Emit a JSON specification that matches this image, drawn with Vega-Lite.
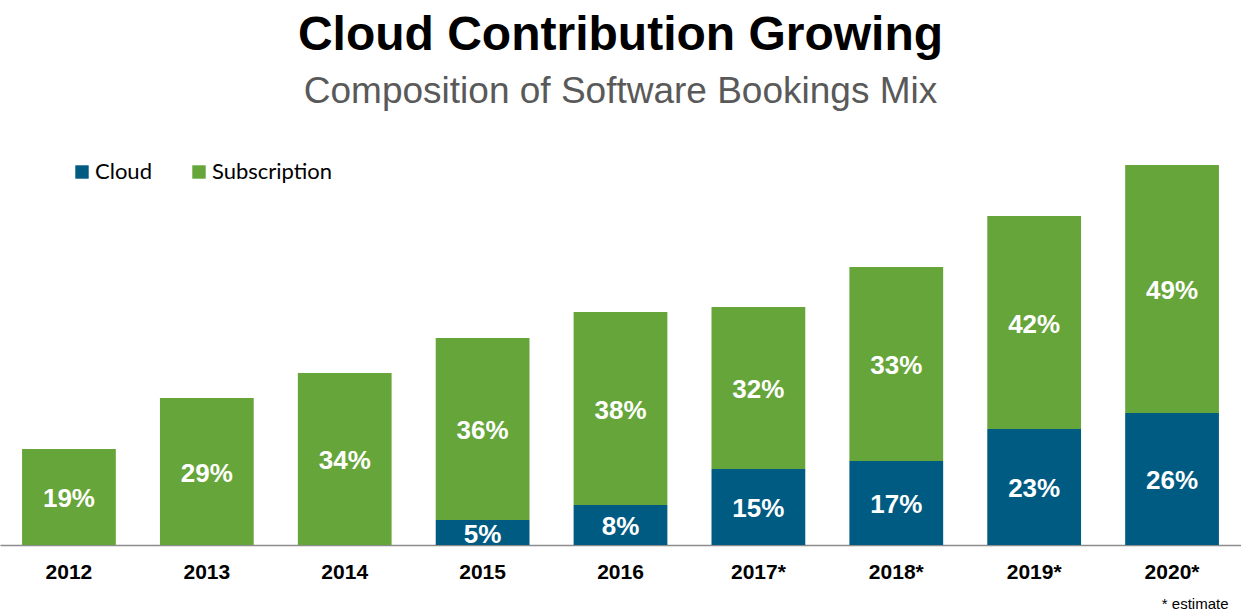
{
  "$schema": "https://vega.github.io/schema/vega-lite/v6.json",
  "width": 1241,
  "height": 405,
  "autosize": {"type": "none"},
  "padding": {"top": 140, "left": 0, "right": 0, "bottom": 68},
  "background": "white",
  "title": {
    "text": "Cloud Contribution Growing",
    "subtitle": "Composition of Software Bookings Mix",
    "anchor": "middle",
    "font": "Liberation Sans",
    "fontSize": 48,
    "fontWeight": "bold",
    "color": "#000000",
    "subtitleFont": "Liberation Sans",
    "subtitleFontSize": 37,
    "subtitleColor": "#595959",
    "subtitlePadding": 14,
    "offset": 30
  },
  "config": {"view": {"stroke": null}},
  "data": {
    "values": [
      {"year": "2012", "series": "Subscription", "order": 2, "value": 96, "label": "19%"},
      {"year": "2013", "series": "Subscription", "order": 2, "value": 147, "label": "29%"},
      {"year": "2014", "series": "Subscription", "order": 2, "value": 172, "label": "34%"},
      {"year": "2015", "series": "Cloud", "order": 1, "value": 25, "label": "5%"},
      {"year": "2015", "series": "Subscription", "order": 2, "value": 182, "label": "36%"},
      {"year": "2016", "series": "Cloud", "order": 1, "value": 40, "label": "8%"},
      {"year": "2016", "series": "Subscription", "order": 2, "value": 193, "label": "38%"},
      {"year": "2017*", "series": "Cloud", "order": 1, "value": 76, "label": "15%"},
      {"year": "2017*", "series": "Subscription", "order": 2, "value": 162, "label": "32%"},
      {"year": "2018*", "series": "Cloud", "order": 1, "value": 84, "label": "17%"},
      {"year": "2018*", "series": "Subscription", "order": 2, "value": 194, "label": "33%"},
      {"year": "2019*", "series": "Cloud", "order": 1, "value": 116, "label": "23%"},
      {"year": "2019*", "series": "Subscription", "order": 2, "value": 213, "label": "42%"},
      {"year": "2020*", "series": "Cloud", "order": 1, "value": 132, "label": "26%"},
      {"year": "2020*", "series": "Subscription", "order": 2, "value": 248, "label": "49%"}
    ]
  },
  "transform": [
    {"stack": "value", "groupby": ["year"], "sort": [{"field": "order", "order": "ascending"}], "as": ["y0", "y1"]}
  ],
  "layer": [
    {
      "mark": {"type": "bar"},
      "encoding": {
        "x": {
          "field": "year", "type": "nominal", "sort": null,
          "scale": {"paddingInner": 0.32, "paddingOuter": 0.16},
          "axis": {
            "title": "* estimate",
            "titleFont": "Liberation Sans",
            "titleFontSize": 15,
            "titleFontWeight": "normal",
            "titleColor": "#000000",
            "titleAnchor": "end",
            "titleAlign": "right",
            "titleX": 1228,
            "titlePadding": 14,
            "labelAngle": 0,
            "labelFont": "Liberation Sans",
            "labelFontSize": 21,
            "labelFontWeight": "bold",
            "labelColor": "#000000",
            "labelPadding": 16,
            "ticks": false,
            "domainColor": "#8c8c8c",
            "domainWidth": 1.5
          }
        },
        "y": {"field": "y0", "type": "quantitative", "scale": {"domain": [0, 405]}, "axis": null},
        "y2": {"field": "y1"},
        "color": {
          "field": "series", "type": "nominal",
          "scale": {"domain": ["Cloud", "Subscription"], "range": ["#005B82", "#66A539"]},
          "legend": {
            "title": null,
            "orient": "none",
            "legendX": 71,
            "legendY": 21,
            "direction": "horizontal",
            "symbolType": "square",
            "symbolSize": 180,
            "symbolStrokeWidth": 0,
            "labelFont": "Lato",
            "labelFontSize": 22,
            "labelColor": "#000000",
            "labelOffset": 2,
            "columnPadding": 36
          }
        }
      }
    },
    {
      "transform": [
        {"fold": ["y0", "y1"], "as": ["edge", "pos"]},
        {"aggregate": [{"op": "mean", "field": "pos", "as": "mid"}], "groupby": ["year", "series", "label"]}
      ],
      "mark": {"type": "text", "color": "white", "font": "Liberation Sans", "fontSize": 26, "fontWeight": "bold", "baseline": "middle", "align": "center", "dy": 2},
      "encoding": {
        "x": {"field": "year", "type": "nominal", "sort": null},
        "y": {"field": "mid", "type": "quantitative", "scale": {"domain": [0, 405]}},
        "text": {"field": "label"}
      }
    }
  ]
}
